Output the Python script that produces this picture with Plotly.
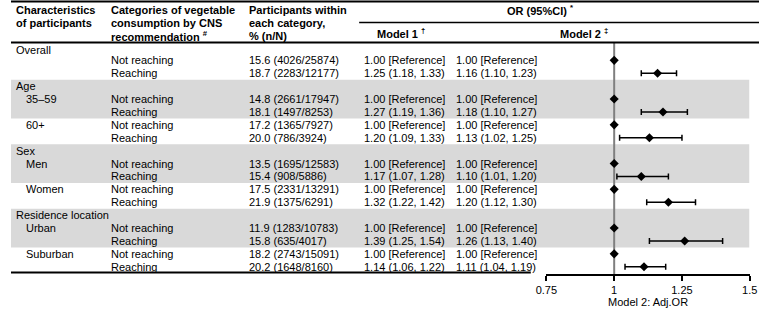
import plotly.graph_objects as go

# ---------------- data ----------------
group_labels = ["Overall", "", "", "Age", "35–59", "", "60+", "", "Sex", "Men", "", "Women", "",
                "Residence location", "Urban", "", "Suburban", ""]
is_group = [1, 0, 0, 1, 0, 0, 0, 0, 1, 0, 0, 0, 0, 1, 0, 0, 0, 0]
categories = ["", "Not reaching", "Reaching", "", "Not reaching", "Reaching", "Not reaching", "Reaching",
              "", "Not reaching", "Reaching", "Not reaching", "Reaching", "", "Not reaching", "Reaching",
              "Not reaching", "Reaching"]
participants = ["", "15.6 (4026/25874)", "18.7 (2283/12177)", "", "14.8 (2661/17947)", "18.1 (1497/8253)",
                "17.2 (1365/7927)", "20.0 (786/3924)", "", "13.5 (1695/12583)", "15.4 (908/5886)",
                "17.5 (2331/13291)", "21.9 (1375/6291)", "", "11.9 (1283/10783)", "15.8 (635/4017)",
                "18.2 (2743/15091)", "20.2 (1648/8160)"]
model1 = ["", "1.00 [Reference]", "1.25 (1.18, 1.33)", "", "1.00 [Reference]", "1.27 (1.19, 1.36)",
          "1.00 [Reference]", "1.20 (1.09, 1.33)", "", "1.00 [Reference]", "1.17 (1.07, 1.28)",
          "1.00 [Reference]", "1.32 (1.22, 1.42)", "", "1.00 [Reference]", "1.39 (1.25, 1.54)",
          "1.00 [Reference]", "1.14 (1.06, 1.22)"]
model2 = ["", "1.00 [Reference]", "1.16 (1.10, 1.23)", "", "1.00 [Reference]", "1.18 (1.10, 1.27)",
          "1.00 [Reference]", "1.13 (1.02, 1.25)", "", "1.00 [Reference]", "1.10 (1.01, 1.20)",
          "1.00 [Reference]", "1.20 (1.12, 1.30)", "", "1.00 [Reference]", "1.26 (1.13, 1.40)",
          "1.00 [Reference]", "1.11 (1.04, 1.19)"]
or2 = [None, 1.00, 1.16, None, 1.00, 1.18, 1.00, 1.13, None, 1.00, 1.10, 1.00, 1.20, None, 1.00, 1.26, 1.00, 1.11]
lo2 = [None, None, 1.10, None, None, 1.10, None, 1.02, None, None, 1.01, None, 1.12, None, None, 1.13, None, 1.04]
hi2 = [None, None, 1.23, None, None, 1.27, None, 1.25, None, None, 1.20, None, 1.30, None, None, 1.40, None, 1.19]
band_starts = [3, 8, 13]
tick_vals = [0.75, 1, 1.25, 1.5]
tick_text = ["0.75", "1", "1.25", "1.5"]

header_col1 = ["Characteristics", "of participants"]
header_col2 = ["Categories of vegetable", "consumption by CNS", "recommendation <sup>#</sup>"]
header_col3 = ["Participants within", "each category,", "% (n/N)"]

# ---------------- layout helpers ----------------
W, H = 767, 312
FONT = "Liberation Sans, Arial, sans-serif"
ROW_TOP, ROW_H = 41.0, 12.9
n = len(categories)
yc = [ROW_TOP + ROW_H * (i + 0.5) for i in range(n)]
ytext = list(yc)
ytext[0] += 3
col_x = [3, 100, 242, 360, 454]
indent_x = 13

fig = go.Figure()

ann = []
def add_text(x, y, t, bold=False, size=11):
    ann.append(dict(x=x, y=y, xref="x", yref="y", text=(f"<b>{t}</b>" if bold else t),
                    showarrow=False, xanchor="left", yanchor="middle",
                    font=dict(family=FONT, size=size, color="black")))

# header
hy = [10, 23, 36]
for k, t in enumerate(header_col1):
    add_text(col_x[0], hy[k], t, bold=True)
for k, t in enumerate(header_col2):
    add_text(col_x[1], hy[k], t, bold=True)
for k, t in enumerate(header_col3):
    add_text(col_x[2], hy[k], t, bold=True)
add_text(507, 10, "OR (95%CI) <sup>*</sup>", bold=True)
add_text(373, 32.5, "Model 1 <sup>†</sup>", bold=True)
add_text(561, 32.5, "Model 2 <sup>‡</sup>", bold=True)

# body
for i in range(n):
    if group_labels[i]:
        add_text(col_x[0] if is_group[i] else indent_x, ytext[i], group_labels[i])
    if categories[i]:
        add_text(col_x[1], ytext[i], categories[i])
        add_text(col_x[2], ytext[i], participants[i])
        add_text(col_x[3], ytext[i], model1[i])
        add_text(col_x[4], ytext[i], model2[i])

shapes = []
for s in band_starts:
    shapes.append(dict(type="rect", xref="x", yref="y", x0=0, x1=757,
                       y0=ROW_TOP + ROW_H * s, y1=ROW_TOP + ROW_H * (s + 3),
                       fillcolor="#d9d9d9", line=dict(width=0), layer="below"))
# table rules
shapes.append(dict(type="line", xref="x", yref="y", x0=0, x1=W, y0=1.5, y1=1.5,
                   line=dict(color="black", width=2)))
shapes.append(dict(type="line", xref="x", yref="y", x0=357, x1=W, y0=22.5, y1=22.5,
                   line=dict(color="black", width=1.5)))
shapes.append(dict(type="line", xref="x", yref="y", x0=0, x1=W, y0=42.5, y1=42.5,
                   line=dict(color="black", width=2)))
shapes.append(dict(type="line", xref="x", yref="y", x0=0, x1=533, y0=272.5, y1=272.5,
                   line=dict(color="black", width=2)))
# reference line at OR = 1
shapes.append(dict(type="line", xref="x2", yref="y", x0=1, x1=1, y0=42.5, y1=275,
                   line=dict(color="#7f7f7f", width=2), layer="below"))

# forest points
ref_x = [or2[i] for i in range(n) if or2[i] is not None and lo2[i] is None]
ref_y = [yc[i] for i in range(n) if or2[i] is not None and lo2[i] is None]
est_idx = [i for i in range(n) if lo2[i] is not None]
fig.add_trace(go.Scatter(x=ref_x, y=ref_y, xaxis="x2", yaxis="y", mode="markers",
                         marker=dict(symbol="diamond", size=7, color="black"),
                         showlegend=False, hoverinfo="skip", cliponaxis=False))
fig.add_trace(go.Scatter(x=[or2[i] for i in est_idx], y=[yc[i] for i in est_idx],
                         xaxis="x2", yaxis="y", mode="markers",
                         marker=dict(symbol="diamond", size=7, color="black"),
                         error_x=dict(type="data", symmetric=False,
                                      array=[hi2[i] - or2[i] for i in est_idx],
                                      arrayminus=[or2[i] - lo2[i] for i in est_idx],
                                      color="black", thickness=1.5, width=3),
                         showlegend=False, hoverinfo="skip", cliponaxis=False))

fig.update_layout(
    width=W, height=H, margin=dict(l=0, r=0, t=0, b=0),
    paper_bgcolor="white", plot_bgcolor="rgba(0,0,0,0)",
    font=dict(family=FONT, size=11, color="black"),
    xaxis=dict(range=[0, W], domain=[0, 1], visible=False, fixedrange=True),
    yaxis=dict(range=[H, 0], domain=[0, 1], visible=False, fixedrange=True),
    xaxis2=dict(domain=[549 / W, 757.5 / W], range=[0.75, 1.5], anchor="free",
                position=(H - 275) / H, showline=True, linecolor="black", linewidth=2,
                ticks="outside", ticklen=5, tickwidth=2, tickcolor="black",
                tickvals=tick_vals, ticktext=tick_text, showgrid=False, zeroline=False,
                tickfont=dict(family=FONT, size=11, color="black"),
                title=dict(text="Model 2: Adj.OR", standoff=2,
                           font=dict(family=FONT, size=11, color="black"))),
    annotations=ann, shapes=shapes,
)

fig.write_html("out.html")
